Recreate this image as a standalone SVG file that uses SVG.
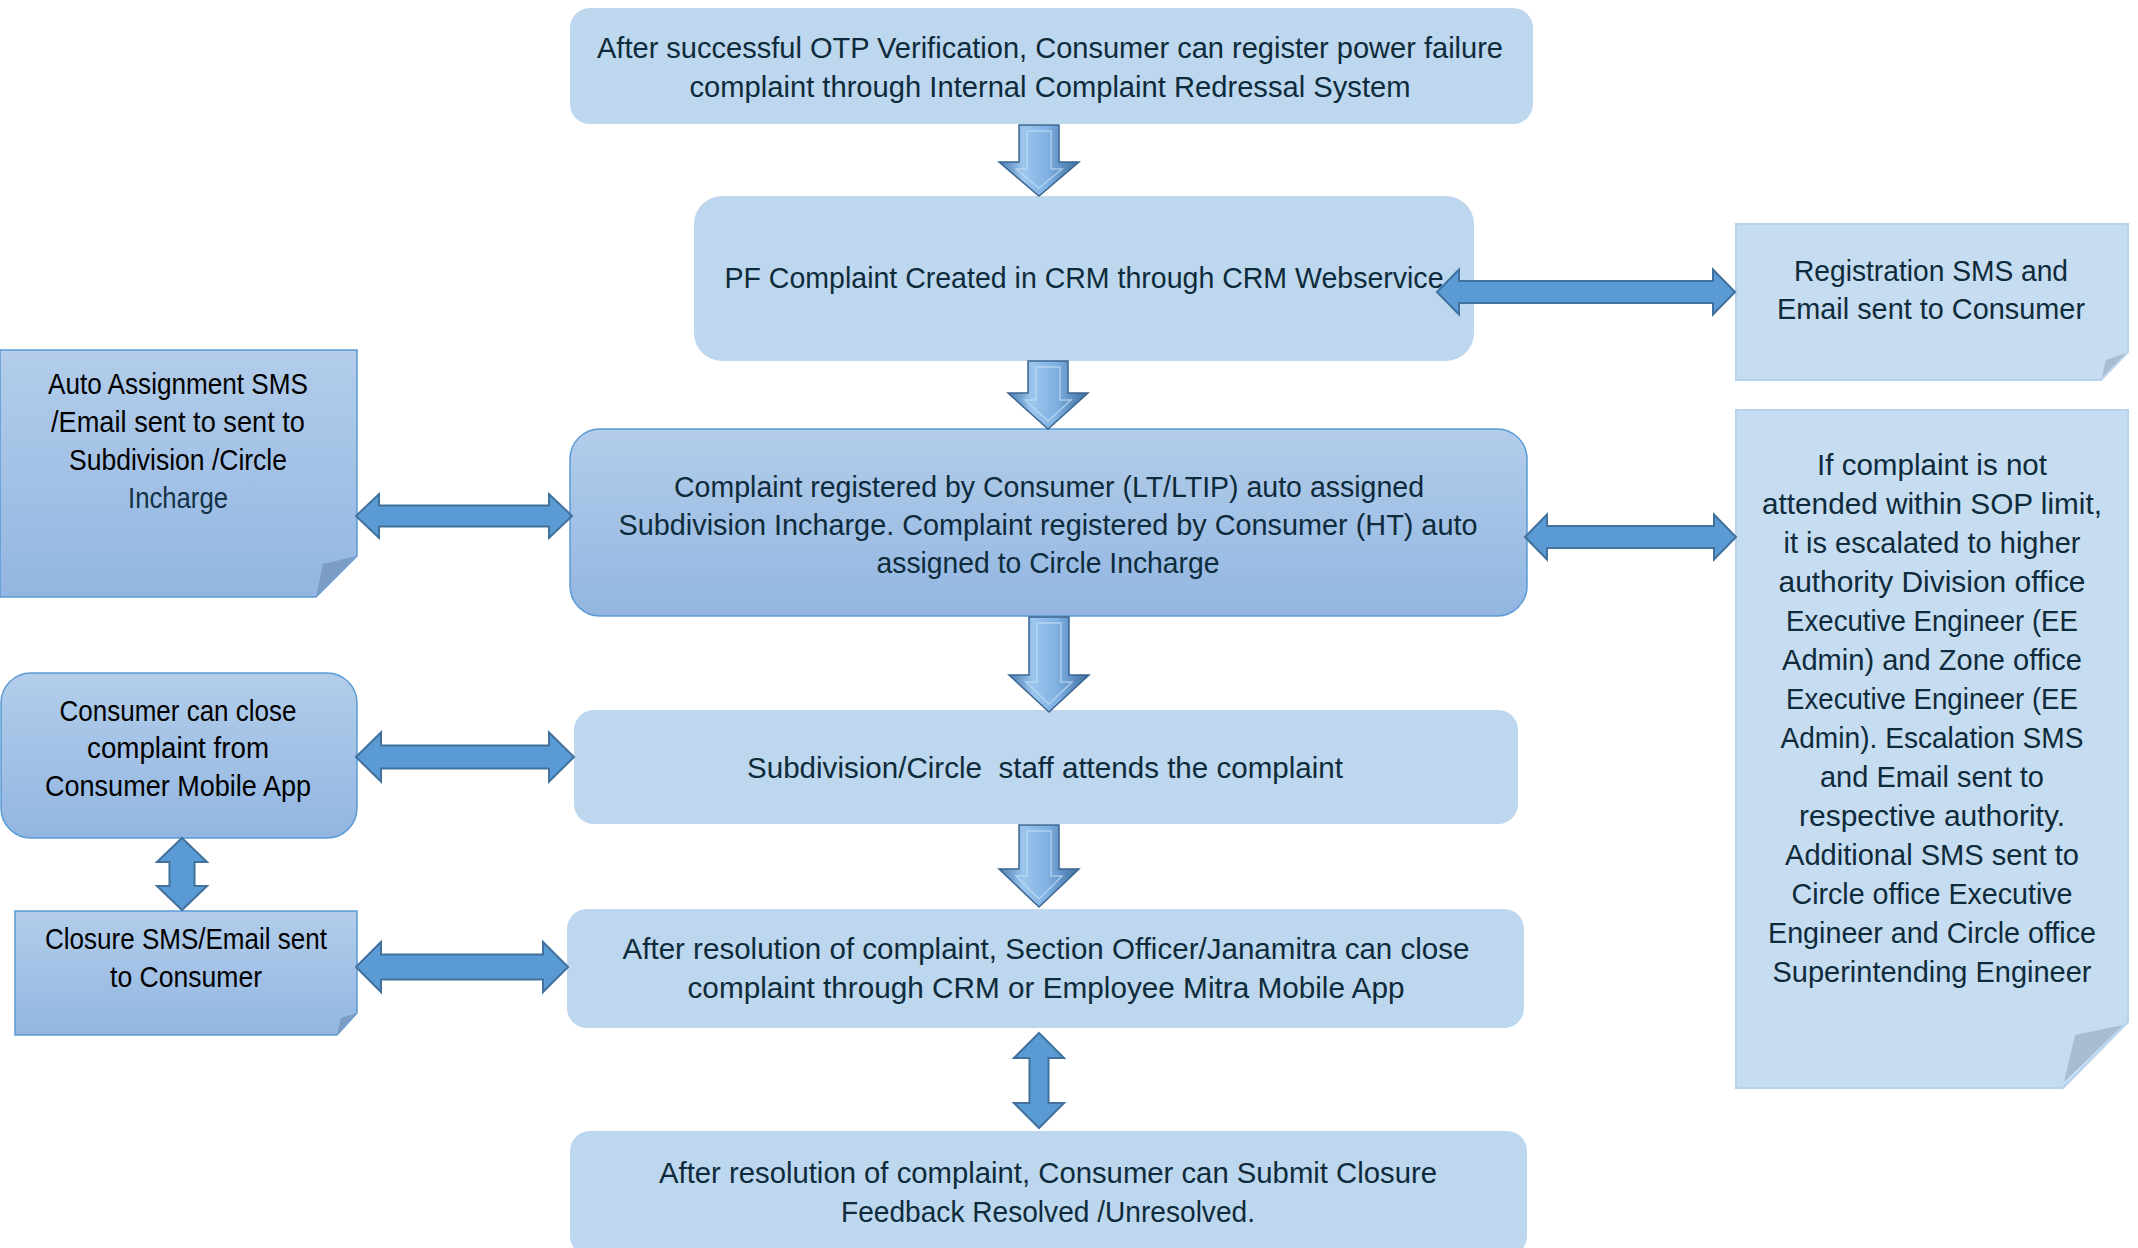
<svg xmlns="http://www.w3.org/2000/svg" width="2138" height="1248" viewBox="0 0 2138 1248">
<defs>
<linearGradient id="gBlue" x1="0" y1="0" x2="0" y2="1">
<stop offset="0" stop-color="#b3cdea"/>
<stop offset="1" stop-color="#92b6e1"/>
</linearGradient>
<linearGradient id="gDown" x1="0" y1="0" x2="1" y2="0">
<stop offset="0" stop-color="#4a7bb0"/>
<stop offset="0.3" stop-color="#9cc6ee"/>
<stop offset="0.6" stop-color="#7fb1e2"/>
<stop offset="1" stop-color="#3f6d9f"/>
</linearGradient>
<style>
.box{fill:#bdd7ee;}
.grad{fill:url(#gBlue);stroke:#5b9bd5;stroke-width:1.5;}
.note{fill:#c6dcf0;stroke:#b7d2ec;stroke-width:2;}
.fold{fill:#a9bcd1;}
.foldd{fill:#7b9cc5;}
.t{font-family:"Liberation Sans",Arial,sans-serif;font-size:29px;fill:#0e2b3b;text-anchor:middle;white-space:pre;}
.k{fill:#000;}
.dbl{fill:#5b9bd5;stroke:#41719c;stroke-width:2;stroke-linejoin:miter;}
.down{fill:url(#gDown);stroke:#3a6591;stroke-width:1.5;}
.bevel{fill:none;stroke:#c4def5;stroke-width:1.5;opacity:0.7;}
</style>
</defs>

<g id="box1">
<rect class="box" x="570" y="8" width="963" height="116" rx="20"/>
<text class="t" x="1050" y="58" textLength="906" lengthAdjust="spacingAndGlyphs">After successful OTP Verification, Consumer can register power failure</text>
<text class="t" x="1050" y="97" textLength="721" lengthAdjust="spacingAndGlyphs">complaint through Internal Complaint Redressal System</text>
</g>

<g id="box2">
<rect class="box" x="694" y="196" width="780" height="165" rx="28"/>
<text class="t" x="1084" y="288" textLength="719" lengthAdjust="spacingAndGlyphs">PF Complaint Created in CRM through CRM Webservice</text>
</g>

<g id="box3">
<rect class="grad" x="570" y="429" width="957" height="187" rx="30"/>
<text class="t" x="1049" y="497" textLength="750" lengthAdjust="spacingAndGlyphs">Complaint registered by Consumer (LT/LTIP) auto assigned</text>
<text class="t" x="1048" y="535" textLength="859" lengthAdjust="spacingAndGlyphs">Subdivision Incharge. Complaint registered by Consumer (HT) auto</text>
<text class="t" x="1048" y="573" textLength="343" lengthAdjust="spacingAndGlyphs">assigned to Circle Incharge</text>
</g>

<g id="box4">
<rect class="box" x="574" y="710" width="944" height="114" rx="20"/>
<text class="t" x="1045" y="778" textLength="596" lengthAdjust="spacingAndGlyphs">Subdivision/Circle  staff attends the complaint</text>
</g>

<g id="box5">
<rect class="box" x="567" y="909" width="957" height="119" rx="20"/>
<text class="t" x="1046" y="959" textLength="847" lengthAdjust="spacingAndGlyphs">After resolution of complaint, Section Officer/Janamitra can close</text>
<text class="t" x="1046" y="998" textLength="717" lengthAdjust="spacingAndGlyphs">complaint through CRM or Employee Mitra Mobile App</text>
</g>

<g id="box6">
<rect class="box" x="570" y="1131" width="957" height="125" rx="20"/>
<text class="t" x="1048" y="1183" textLength="778" lengthAdjust="spacingAndGlyphs">After resolution of complaint, Consumer can Submit Closure</text>
<text class="t" x="1048" y="1222" textLength="414" lengthAdjust="spacingAndGlyphs">Feedback Resolved /Unresolved.</text>
</g>

<g id="note-registration">
<path class="note" d="M1736,224 H2128 V352 L2101,380 H1736 Z"/>
<path class="fold" d="M2102,377 L2106,360 L2126,353 Z"/>
<text class="t" x="1931" y="281" textLength="274" lengthAdjust="spacingAndGlyphs">Registration SMS and</text>
<text class="t" x="1931" y="319" textLength="308" lengthAdjust="spacingAndGlyphs">Email sent to Consumer</text>
</g>

<g id="note-escalation">
<path class="note" d="M1736,410 H2128 V1022 L2063,1088 H1736 Z"/>
<path class="fold" d="M2064,1082 L2075,1035 L2123,1025 Z"/>
<text class="t" x="1932" y="475" textLength="230" lengthAdjust="spacingAndGlyphs">If complaint is not</text>
<text class="t" x="1932" y="514" textLength="340" lengthAdjust="spacingAndGlyphs">attended within SOP limit,</text>
<text class="t" x="1932" y="553" textLength="297" lengthAdjust="spacingAndGlyphs">it is escalated to higher</text>
<text class="t" x="1932" y="592" textLength="307" lengthAdjust="spacingAndGlyphs">authority Division office</text>
<text class="t" x="1932" y="631" textLength="292" lengthAdjust="spacingAndGlyphs">Executive Engineer (EE</text>
<text class="t" x="1932" y="670" textLength="300" lengthAdjust="spacingAndGlyphs">Admin) and Zone office</text>
<text class="t" x="1932" y="709" textLength="292" lengthAdjust="spacingAndGlyphs">Executive Engineer (EE</text>
<text class="t" x="1932" y="748" textLength="303" lengthAdjust="spacingAndGlyphs">Admin). Escalation SMS</text>
<text class="t" x="1932" y="787" textLength="224" lengthAdjust="spacingAndGlyphs">and Email sent to</text>
<text class="t" x="1932" y="826" textLength="266" lengthAdjust="spacingAndGlyphs">respective authority.</text>
<text class="t" x="1932" y="865" textLength="294" lengthAdjust="spacingAndGlyphs">Additional SMS sent to</text>
<text class="t" x="1932" y="904" textLength="281" lengthAdjust="spacingAndGlyphs">Circle office Executive</text>
<text class="t" x="1932" y="943" textLength="328" lengthAdjust="spacingAndGlyphs">Engineer and Circle office</text>
<text class="t" x="1932" y="982" textLength="319" lengthAdjust="spacingAndGlyphs">Superintending Engineer</text>
</g>

<g id="note-auto-assignment">
<path class="grad" d="M0,350 H357 V556 L316,597 H0 Z"/>
<path class="foldd" d="M316,597 L323,564 L357,556 Z"/>
<text class="t k" x="178" y="394" textLength="260" lengthAdjust="spacingAndGlyphs">Auto Assignment SMS</text>
<text class="t k" x="178" y="432" textLength="254" lengthAdjust="spacingAndGlyphs">/Email sent to sent to</text>
<text class="t k" x="178" y="470" textLength="218" lengthAdjust="spacingAndGlyphs">Subdivision /Circle</text>
<text class="t" x="178" y="508" textLength="100" lengthAdjust="spacingAndGlyphs" style="fill:#143246">Incharge</text>
</g>

<g id="box-consumer-close">
<rect class="grad" x="1" y="673" width="356" height="165" rx="30"/>
<text class="t k" x="178" y="721" textLength="237" lengthAdjust="spacingAndGlyphs">Consumer can close</text>
<text class="t k" x="178" y="758" textLength="182" lengthAdjust="spacingAndGlyphs">complaint from</text>
<text class="t k" x="178" y="796" textLength="266" lengthAdjust="spacingAndGlyphs">Consumer Mobile App</text>
</g>

<g id="note-closure">
<path class="grad" d="M15,911 H357 V1013 L337,1035 H15 Z"/>
<path class="foldd" d="M337,1035 L341,1018 L357,1013 Z"/>
<text class="t k" x="186" y="949" textLength="282" lengthAdjust="spacingAndGlyphs">Closure SMS/Email sent</text>
<text class="t k" x="186" y="987" textLength="152" lengthAdjust="spacingAndGlyphs">to Consumer</text>
</g>

<g id="connectors">
<path class="down" d="M1019,125 H1059 V162 H1079 L1039,196 L999,162 H1019 Z"/>
<path class="bevel" d="M1027,131 H1051 V169 H1062 L1039,188 L1016,169 H1027 Z"/>
<path class="down" d="M1028,361 H1068 V393 H1088 L1048,429 L1008,393 H1028 Z"/>
<path class="bevel" d="M1036,367 H1060 V400 H1071 L1048,421 L1025,400 H1036 Z"/>
<path class="down" d="M1029,617 H1069 V675 H1089 L1049,712 L1009,675 H1029 Z"/>
<path class="bevel" d="M1037,623 H1061 V682 H1072 L1049,704 L1026,682 H1037 Z"/>
<path class="down" d="M1019,825 H1059 V869 H1079 L1039,907 L999,869 H1019 Z"/>
<path class="bevel" d="M1027,831 H1051 V876 H1062 L1039,899 L1016,876 H1027 Z"/>

<path class="dbl" d="M356,516 L379,494 V505.5 H549 V494 L572,516 L549,538 V526.5 H379 V538 Z"/>
<path class="dbl" d="M356,757 L381,732.5 V745.5 H549 V732.5 L574,757 L549,781.5 V768.5 H381 V781.5 Z"/>
<path class="dbl" d="M356,967 L381,942 V954.5 H543 V942 L568,967 L543,992 V979.5 H381 V992 Z"/>
<path class="dbl" d="M1437,292 L1459,269.5 V281 H1713 V269.5 L1735,292 L1713,314.5 V303 H1459 V314.5 Z"/>
<path class="dbl" d="M1525,537 L1547,514.5 V526 H1714 V514.5 L1736,537 L1714,559.5 V548 H1547 V559.5 Z"/>
<path class="dbl" d="M182,838 L207,862 H194.5 V886 H207 L182,910 L157,886 H169.5 V862 H157 Z"/>
<path class="dbl" d="M1039,1033 L1064,1058 H1048.5 V1103 H1064 L1039,1128 L1014,1103 H1029.5 V1058 H1014 Z"/>
</g>
</svg>
